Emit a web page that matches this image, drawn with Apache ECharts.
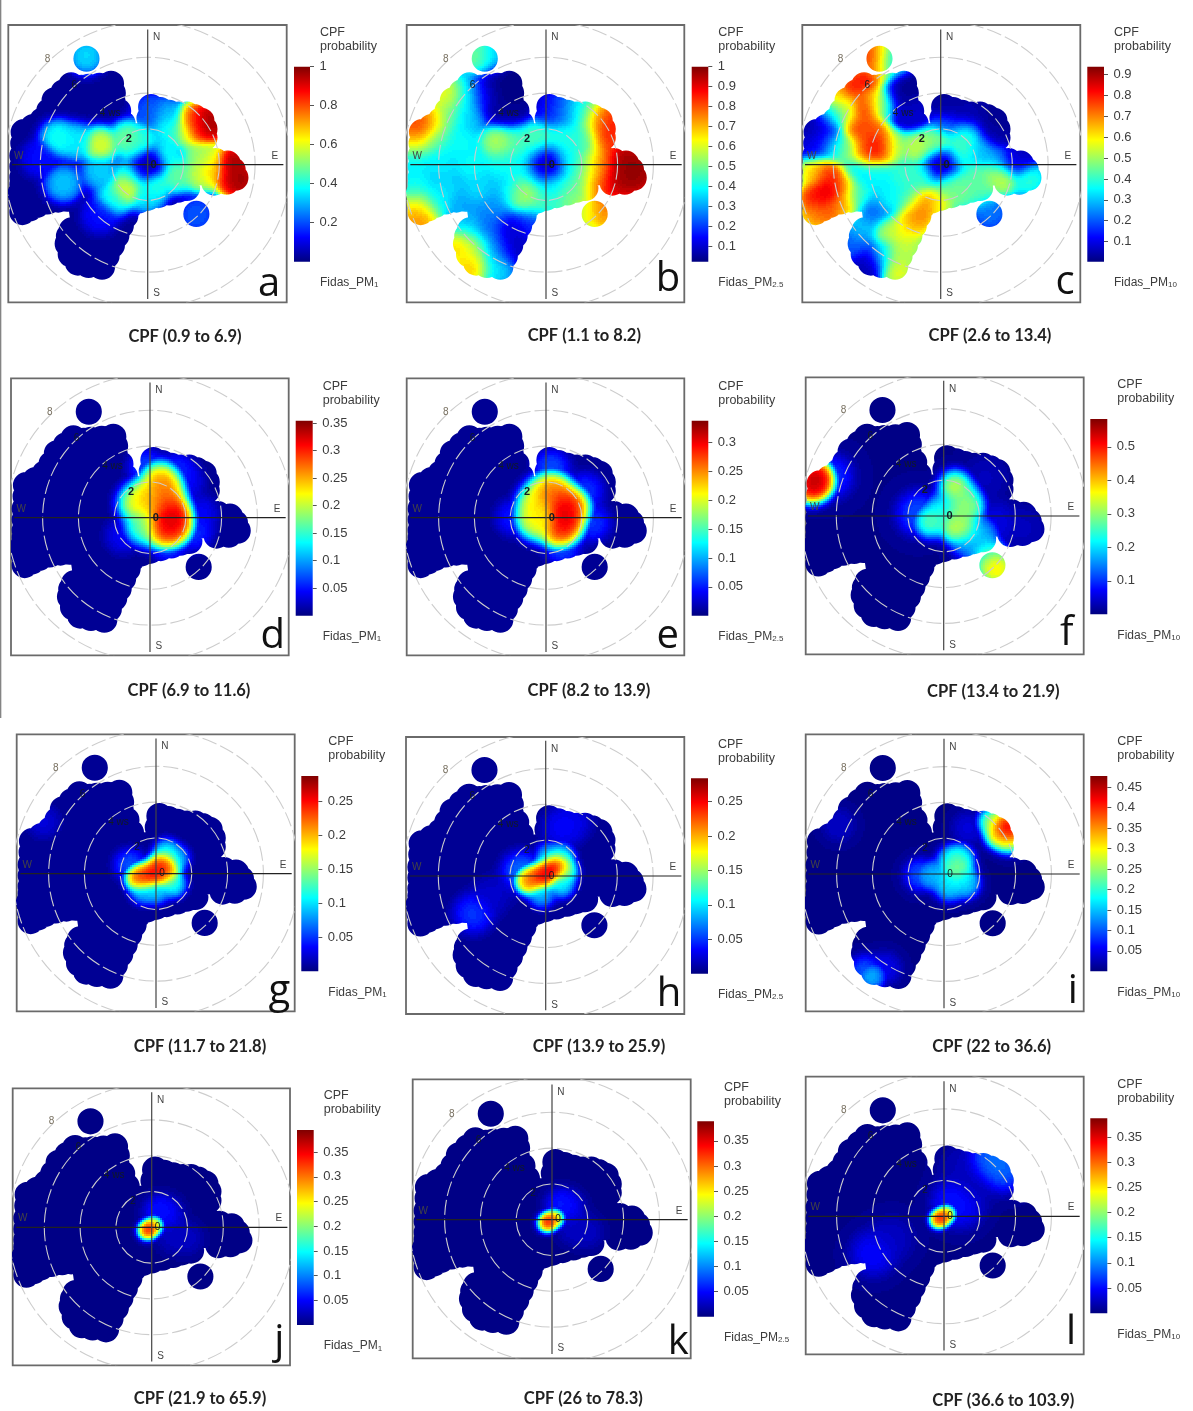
<!DOCTYPE html>
<html><head><meta charset="utf-8">
<style>html,body{margin:0;padding:0;background:#fff}#c{width:1193px;height:1411px}</style>
<script src="https://cdn.jsdelivr.net/npm/echarts@6/dist/echarts.min.js"></script>
</head><body><div id="c"></div>
<script>
// ---------- data: wind vector east/north (m/s), CPF probability ----------
const letters = ['a','b','c','d','e','f','g','h','i','j','k','l'];
const captions = ['CPF (0.9 to 6.9)','CPF (1.1 to 8.2)','CPF (2.6 to 13.4)','CPF (6.9 to 11.6)','CPF (8.2 to 13.9)','CPF (13.4 to 21.9)','CPF (11.7 to 21.8)','CPF (13.9 to 25.9)','CPF (22 to 36.6)','CPF (21.9 to 65.9)','CPF (26 to 78.3)','CPF (36.6 to 103.9)'];
const pollutantSub = ['1','2.5','10','1','2.5','10','1','2.5','10','1','2.5','10'];
const scaleMin = [0,0.024,0.004,0,0,0,0,0,0,0,0,0];
const scaleMax = [1,1,0.937,0.3545,0.3375,0.583,0.287,0.284,0.4775,0.395,0.389,0.387];
const baseValue = [0.02,0.03,0.01,0.005,0.005,0.008,0.004,0.004,0.006,0.004,0.004,0.005];
const ticks5 = [0.05,0.1,0.15,0.2,0.25,0.3,0.35];
const tickLists = [
 [0.2,0.4,0.6,0.8,1],
 [0.1,0.2,0.3,0.4,0.5,0.6,0.7,0.8,0.9,1],
 [0.1,0.2,0.3,0.4,0.5,0.6,0.7,0.8,0.9],
 ticks5,
 [0.05,0.1,0.15,0.2,0.25,0.3],
 [0.1,0.2,0.3,0.4,0.5],
 [0.05,0.1,0.15,0.2,0.25],
 [0.05,0.1,0.15,0.2,0.25],
 [0.05,0.1,0.15,0.2,0.25,0.3,0.35,0.4,0.45],
 ticks5, ticks5, ticks5
];
const footprintHull = [[-6.93,1.82],[-6.4,2.1],[-5.87,2.48],[-5.5,3.0],[-5.2,3.6],[-4.7,4.05],[-4.28,4.43],[-3.7,4.3],[-3.3,4.35],[-2.7,4.4],[-2.05,4.52],[-1.95,4.0],[-1.96,3.5],[-1.65,3.0],[-1.4,2.3],[-0.5,1.6],[0.1,2.6],[0.19,3.22],[0.7,3.05],[1.2,2.9],[1.75,2.8],[2.2,2.8],[2.6,2.66],[3.0,2.45],[3.17,2.0],[3.17,1.5],[2.5,0.9],[3.1,0.45],[3.8,0.2],[4.47,0.06],[4.75,-0.3],[4.9,-0.73],[4.4,-0.95],[3.72,-1.0],[2.2,-1.3],[1.7,-1.4],[1.2,-1.55],[0.6,-1.7],[0,-1.85],[-0.5,-2.0],[-1.0,-2.3],[-1.25,-2.85],[-1.5,-3.4],[-1.75,-3.95],[-2.0,-4.5],[-2.3,-5.1],[-2.55,-5.7],[-3.3,-5.6],[-3.9,-5.47],[-4.3,-5.0],[-4.47,-4.41],[-4.4,-4.0],[-4.25,-3.67],[-4.5,-1.9],[-5.0,-1.95],[-5.6,-2.05],[-6.2,-2.25],[-6.6,-2.45],[-7.0,-2.65],[-7.05,-2.1],[-7.1,-1.6],[-7.0,-1.1],[-7.0,-0.7],[-7.0,-0.1],[-7.0,0.5],[-6.95,1.2]];
const footprintIslands = [[-3.42,5.92],[2.72,-2.75]];
const ringValues = [2,4,6,8];
const ringLabels = [['0',0.33,0],['2',-1.06,1.45],['4 ws',-2.1,2.9],['6',-4.1,4.45],['8',-5.6,5.9]];
const compassLabels = [['N',0.5,7.1],['E',7.1,0.49],['S',0.5,-7.2],['W',-7.2,0.5]];

const calmDip = [[0,0,.01],[.15,.1,.02],[-.15,-.1,.02]];
const samplesA = calmDip.concat([[.95,.5,.42],[-.85,-.55,.42],[.4,-.95,.46],[-.55,.85,.44],[-4.99,1.47,.42],[-4.71,-1.04,.34],[-2.66,1.10,.63],[-3.97,1.28,.38],[-1.08,1.47,.52],[-1.17,-1.32,.66],[-1.92,-1.88,.42],[-2.66,-.39,.35],[1.62,-.58,.50],[2.92,-.58,.60],[3.67,-.39,.72],[4.6,-.76,.95],[5.16,-.76,1.0],[5.2,-1,1],[4.6,.17,1.0],[4.9,.1,1],[3.67,.35,.62],[2.92,.54,.55],[2.18,1.84,.58],[1.25,2.03,.42],[.13,2.96,.22],[1.06,2.77,.32],[2.55,2.59,.80],[2.92,2.03,.88],[2.9,2.1,.92],[3.48,2.4,1.0],[3.2,2.6,1],[3.6,2.1,1],[-.34,1.4,.42],[0,-1.7,.38],[-3.43,6.1,.36],[2.74,-2.81,.22],[-2.66,-2.81,.14],[-6,.35,.14]]);
const samplesB = calmDip.concat([[.95,.5,.42],[-.85,-.55,.42],[.4,-.95,.42],[-.55,.85,.46],[-2.3,4.2,.02],[-2.3,4.7,.02],[-1.9,3.6,.02],[-2.9,4.4,.05],[-2.8,3.3,.05],[-1.8,3,.06],[-3.78,6.03,.55],[-3.04,5.94,.35],[-5.46,3.89,.68],[-4.53,3.89,.42],[-3.59,3.89,.2],[-5.46,2.77,.5],[-6.39,2.59,.72],[-7.32,2.03,.85],[-7,2.3,.88],[-4.34,2.77,.36],[-7.32,1.28,.65],[-6.2,1.47,.5],[-4.71,1.28,.42],[-2.66,1.19,.6],[-1.55,1.28,.48],[-.43,1.6,.5],[.88,1.47,.45],[2.18,1.47,.45],[.2,3,.12],[.88,2.96,.3],[1.99,2.96,.42],[2.92,2.59,.75],[3.58,2.4,.92],[3.3,1.56,.9],[-7.32,.17,.4],[-5.83,.17,.4],[-4.15,0,.42],[-2.48,0,.42],[-1.5,0,.42],[1.4,.1,.42],[2.36,0,.55],[3.11,0,.85],[4.41,.35,1],[4.8,0,1],[4.5,-.5,1],[5.3,-.3,1],[5.16,-.76,1],[4.23,-.95,1],[3.48,-1.32,.95],[-7.32,-1.14,.42],[-5.64,-1.32,.38],[-3.78,-1.32,.38],[-2.1,-1.32,.36],[-1.17,-1.51,.62],[.32,-1.4,.38],[1.62,-1.14,.48],[2.74,-1.14,.72],[-7.32,-2.81,.75],[-7.2,-3,.8],[-6.9,-3.1,.75],[-7.32,-2.25,.55],[-6.2,-2.25,.42],[-4.71,-2.63,.32],[-2.85,-2.44,.3],[-1.27,-1.88,.55],[-.24,-2.07,.48],[1.25,-1.88,.55],[2.36,-2.63,.62],[3.11,-2.63,.82],[-4.34,-3.56,.36],[-3.22,-3.56,.25],[-1.92,-3.56,.1],[-.99,-3.18,.2],[-4.71,-4.49,.75],[-3.97,-4.67,.55],[-2.85,-4.67,.3],[-1.9,-4.5,.08],[-4.06,-5.7,.75],[-2.85,-5.79,.38]]);
const samplesC = calmDip.concat([[.95,.45,.42],[-.85,-.55,.42],[.4,-.95,.42],[-.55,.85,.48],[-2.55,4.26,.02],[-2,3.8,.02],[-1.6,3,.08],[2.85,2.4,.02],[3.4,2.4,.02],[2.2,2.7,.03],[3.4,1.8,.03],[1.2,2.9,.04],[3,1.7,.05],[.43,3.3,.03],[1.73,2.96,.05],[4.4,.35,.05],[-7.02,2.03,.03],[-7.02,1.1,.1],[-4.1,-5.5,.05],[-3.9,6,.85],[-3.67,6.13,.8],[-3.33,6.22,.6],[-2.92,5.94,.35],[-2.7,5.8,.3],[-3.67,5.57,.72],[-3.3,5.2,.5],[-3.85,4.82,.92],[-4.97,4.36,.85],[-5.72,3.8,.65],[-4.23,3.15,.82],[-3.67,3.7,.75],[-3.26,3.52,.35],[-5.34,2.96,.55],[-6.09,2.77,.32],[-6.55,1.84,.12],[-4.6,2.03,.8],[-3.85,1.84,.78],[-3.67,.91,.9],[-3.11,.91,.8],[-4.23,.73,.75],[-5.34,.91,.5],[-6.09,1.1,.3],[-2.55,.91,.48],[-1.25,.91,.58],[-.13,1.3,.52],[1.17,1.28,.45],[1.55,1.84,.38],[.43,2.22,.2],[2.29,.91,.33],[3.04,.35,.28],[3.97,.17,.12],[-7.02,-.39,.65],[-6.28,-.58,.85],[-6.28,-1.51,.92],[-7.02,-1.88,.85],[-5.53,-1.14,.75],[-7.02,-2.81,.72],[-6.28,-2.63,.78],[-5.44,-2.25,.7],[-4.6,-.39,.35],[-3.48,-.58,.38],[-2.18,-.58,.42],[-1.3,-.76,.42],[.61,-1.3,.48],[1.92,-.76,.45],[2.85,-.58,.5],[3.41,-.76,.58],[4.9,-.76,.42],[-4.6,-1.69,.42],[-3.67,-2.63,.22],[-2.92,-1.88,.38],[-1.81,-1.88,.42],[-1.25,-2.63,.75],[-.88,-2.07,.72],[-.13,-2.07,.62],[-1.43,-3.18,.7],[1.17,-1.51,.48],[2.29,-1.51,.45],[2.76,-2.63,.24],[-4.41,-3.56,.32],[-2.92,-3.74,.55],[-1.99,-3.74,.62],[-4.79,-4.49,.22],[-3.3,-5.05,.28],[-2.55,-5.05,.55],[-2.36,-5.98,.6],[-1.81,-4.67,.55]]);
const samplesD = [[1.12,-.04,.35],[1,-.3,.35],[1.2,.2,.35],[.93,.8,.32],[.56,2.1,.29],[-.74,.8,.25],[-.19,1.17,.27],[1.3,-.5,.33],[.74,-.69,.31],[.84,1.55,.3],[.37,.6,.27],[-.37,-.5,.2],[2.8,.24,.05],[-1.5,-1,.05],[2,2,.05],[1,-1.4,.09],[-.2,2.8,.08],[2.5,-.8,.07],[1.5,2.6,.07]];
const samplesE = [[.97,.71,.3375],[1.06,-.32,.3375],[1,.2,.3375],[.5,1.17,.29],[1.43,.61,.3],[.32,1.55,.28],[-.61,.61,.24],[-.61,-.13,.24],[-.24,1.17,.25],[.69,-.69,.31],[-.24,-.13,.22],[2.2,1.5,.07],[2.6,-.3,.07],[.9,-1.6,.08],[.3,2.8,.08],[-1.8,0,.06]];
const samplesF = [[-7.28,1.97,.58],[-7.4,1.6,.58],[-7.2,2.3,.58],[-7,1.9,.58],[-6.3,2.2,.12],[.63,1.64,.39],[1.38,.52,.34],[1.1,1,.31],[.9,.2,.33],[.63,-.6,.38],[1.19,-.78,.35],[-.76,-.32,.32],[-.11,.34,.26],[2.12,-.97,.2],[1.38,-1.53,.18],[2.31,-1.9,.25],[2.77,-2.83,.42],[3.05,-3.02,.42],[2.68,-2.46,.33],[-1.41,.15,.14],[2.87,-.41,.07],[4.5,-.7,.04],[2.3,2.1,.04]];
const samplesG = [[0,0,.287],[-1,-.25,.25],[-.4,-.1,.27],[.3,.3,.27],[.6,.55,.25],[-.71,-.26,.25],[.41,.48,.25],[.6,-.07,.22],[.6,1.23,.12],[1.15,.86,.1],[-.71,-1.0,.1],[0,-1.0,.11],[.97,-.63,.13],[-1.45,.48,.07],[-6.3,2.9,.03]];
const samplesH = [[.34,.43,.284],[0,.05,.28],[-1,-.3,.23],[-.4,-.1,.28],[.5,.55,.28],[-.78,-.22,.23],[.71,.71,.24],[1.08,.24,.16],[.89,1.17,.1],[.15,1.17,.09],[.89,-.5,.12],[-.22,-1.06,.1],[-1.34,.24,.08],[-4.04,-2.09,.06],[-3,-1.06,.025],[.89,2.66,.04],[1.45,3.03,.035]];
const samplesI = [[3.5,2.55,.4775],[3.7,2.3,.4775],[3.22,2.74,.44],[3.04,2.18,.36],[2.66,2.92,.28],[3.6,1.9,.3],[.61,.32,.27],[.8,.6,.27],[.9,-.1,.24],[.4,.8,.2],[.9,.9,.2],[.24,-.43,.2],[.3,-.8,.17],[1.2,-.6,.17],[-.5,-.06,.17],[1.17,-.43,.17],[-.9,-.1,.15],[-1.3,-.05,.12],[-4.04,-5.74,.17],[-4.41,-5.46,.12],[-3.3,-5.27,.06],[-5.9,2.74,.04],[1.36,2.55,.05]];
const samplesJ = [[-.13,-.09,.395],[-.28,-.2,.33],[.13,.09,.3],[.47,.88,.07],[.84,.69,.05],[1.96,-.61,.03],[1.2,-.5,.03]];
const samplesK = [[-.15,-.07,.389],[-.3,-.2,.33],[.17,.07,.3],[.54,.82,.07],[.91,.63,.05],[1.94,-.67,.03],[1.2,-.5,.03]];
const samplesL = [[-.13,-.07,.387],[-.32,-.2,.33],[.15,.11,.3],[.61,.82,.07],[.99,.63,.05],[2.85,2.96,.11],[3.41,2.68,.09],[2.48,3.05,.09],[-3.95,-2.07,.06],[-2.92,-1.23,.03],[.99,2.68,.025],[1.73,1.75,.02]];
const allSamples = [samplesA,samplesB,samplesC,samplesD,samplesE,samplesF,samplesG,samplesH,samplesI,samplesJ,samplesK,samplesL];

// ---------- layout and styling (pixels) ----------
const boxes = [[8.3,25,286.7,302.3],[406.7,25,684.3,302.3],[802.3,25,1080.3,302.3],[11,378.3,288.7,655.3],[406.7,378.3,684.3,655.3],[805.7,377.3,1083.7,654.3],[16.7,734.3,294.7,1011.3],[406,737,684.3,1014],[805.7,734.3,1083.7,1011.3],[12.7,1088.3,290,1365.3],[412.7,1079.3,690.7,1358.3],[805.7,1076.7,1083.7,1354.3]];
const centres = [[147.7,164.7],[546,164.7],[940.7,164.7],[150,517.7],[546,517.7],[943.7,516],[156,873.7],[545.7,876],[944,874],[151.7,1227.3],[552,1219.7],[944,1216.3]];
const bars = [[294,66.7,310,261.7],[691.7,66.7,708.3,261.7],[1087.3,66.7,1104,261.7],[295.7,420.7,312.7,615.7],[691.7,420.7,708.3,615.7],[1090.3,419,1107.3,614.3],[301.3,776,318.3,971.3],[691,778.3,708,973.7],[1090.3,776,1107.3,971.3],[297,1130,313.7,1325],[697.3,1121.3,714,1316.7],[1090.3,1118.3,1107.3,1313.3]];
const captionPos = [[185,337],[584.3,335.7],[990,335.7],[189,690.7],[589,690.7],[993.3,691.7],[200,1046.7],[599,1046.7],[991.7,1046.7],[200,1399],[583.3,1399],[1003.3,1401]];
const letterPos = [[269,285],[668,280],[1065,283],[272.7,636.7],[667.7,636.7],[1066.7,633.3],[279.3,991.7],[669,995],[1072.7,991.7],[279.3,1341.7],[678.3,1343],[1071,1333]];
const smoothing = [.45,.55,.48,.52,.52,.45,.36,.36,.38,.25,.25,.25];
const faintSmoothing = [0,0,0,.5,.5,.6,.45,.55,.45,.45,.45,.62];
const backgroundWeight = [.08,.08,.08,.25,.25,.25,.25,.25,.25,.25,.25,.25];
const pxPerMs = 17.9, footprintR = .73, levelCount = 72, cell = 2;

const jetStops = [[0,[0,0,127]],[.125,[0,0,255]],[.375,[0,255,255]],[.625,[255,255,0]],[.875,[255,0,0]],[1,[127,0,0]]];
function jet(t){
  t=Math.max(0,Math.min(1,t));
  for(let i=1;i<jetStops.length;i++){
    if(t<=jetStops[i][0]){
      const a=jetStops[i-1],b=jetStops[i],f=(t-a[0])/(b[0]-a[0]);
      return 'rgb('+a[1].map((c,k)=>Math.round(c+(b[1][k]-c)*f)).join(',')+')';
    }
  }
  return 'rgb(127,0,0)';
}
function circlePath(x,y,r){return 'M'+(x-r)+' '+y+'A'+r+' '+r+' 0 1 1 '+(x+r)+' '+y+'A'+r+' '+r+' 0 1 1 '+(x-r)+' '+y+'Z';}
function surface(list,h,w0,base,u,v){
  let sw=w0,sv=w0*base;
  for(let i=0;i<list.length;i++){
    const q=list[i],du=u-q[0],dv=v-q[1],r2=du*du+dv*dv;
    if(r2>16*h*h) continue;
    const w=Math.exp(-r2/(2*h*h));
    sw+=w;sv+=w*q[2];
  }
  return sv/sw;
}

const grids=[],xAxes=[],yAxes=[],series=[],graphics=[];
graphics.push({type:'line',silent:true,shape:{x1:.7,y1:0,x2:.7,y2:718},style:{stroke:'#777',lineWidth:1.2}});

letters.forEach((letter,p)=>{
  const box=boxes[p],c=centres[p],bar=bars[p];
  const lo=scaleMin[p],hi=scaleMax[p];
  const g=grids.length;
  grids.push({left:box[0],top:box[1],width:box[2]-box[0],height:box[3]-box[1],show:true,backgroundColor:'#fff',borderColor:'#6a6a6a',borderWidth:1.8,z:0});
  xAxes.push({type:'value',gridIndex:g,show:false,min:-(c[0]-box[0])/pxPerMs,max:(box[2]-c[0])/pxPerMs});
  yAxes.push({type:'value',gridIndex:g,show:false,min:-(box[3]-c[1])/pxPerMs,max:(c[1]-box[1])/pxPerMs});

  const samples=allSamples[p],h=smoothing[p],h2=faintSmoothing[p],w0=backgroundWeight[p],base=baseValue[p];
  const strong=h2?samples.filter(q=>q[2]>=.3*hi):samples, faint=h2?samples.filter(q=>q[2]<.3*hi):[];
  series.push({type:'custom',name:'CPF '+letter,coordinateSystem:'cartesian2d',xAxisIndex:g,yAxisIndex:g,clip:true,silent:true,z:2,
    data:samples,
    renderItem(params,api){
      if(params.dataIndex!==0) return null;
      const unit=api.size([1,0])[0],o=api.coord([0,0]);
      let d='';
      footprintHull.forEach((q,i)=>{const s=api.coord(q);d+=(i?'L':'M')+s[0]+' '+s[1];});
      d+='Z';
      footprintHull.concat(footprintIslands).forEach(q=>{const s=api.coord(q);d+=circlePath(s[0],s[1],footprintR*unit);});
      const tl=api.coord([-7.95,6.95]),br=api.coord([5.8,-6.7]);
      const x0=Math.max(Math.floor(tl[0]),Math.floor(box[0])),x1=Math.ceil(br[0]),y0=Math.floor(tl[1]),y1=Math.ceil(br[1]);
      const buckets={};
      const flush=(idx,xa,xb,y)=>{(buckets[idx]=buckets[idx]||[]).push('M'+xa+' '+y+'H'+xb+'V'+(y+cell)+'H'+xa+'Z');};
      for(let y=y0;y<y1;y+=cell){
        let run=-1,start=x0;
        for(let x=x0;x<x1;x+=cell){
          const u=(x+cell/2-o[0])/unit,v=(o[1]-y-cell/2)/unit;
          let f=surface(strong,h,w0,base,u,v);
          if(faint.length) f=Math.max(f,surface(faint,h2,w0,base,u,v));
          const idx=Math.max(0,Math.min(levelCount-1,Math.floor((f-lo)/(hi-lo)*levelCount)));
          if(idx!==run){ if(run>=0) flush(run,start,x,y); run=idx; start=x; }
        }
        flush(run,start,x1,y);
      }
      const kids=Object.keys(buckets).map(k=>({type:'path',silent:true,shape:{pathData:buckets[k].join('')},style:{fill:jet((+k+.5)/levelCount)}}));
      return {type:'group',children:kids,clipPath:{type:'path',shape:{pathData:d}}};
    }
  });
  // wind-speed rings
  series.push({type:'custom',name:'rings '+letter,coordinateSystem:'cartesian2d',xAxisIndex:g,yAxisIndex:g,clip:true,silent:true,z:3,
    data:ringValues.map(v=>[v,0]),
    renderItem(params,api){
      const o=api.coord([0,0]);
      return {type:'circle',silent:true,shape:{cx:o[0],cy:o[1],r:api.size([api.value(0),0])[0]},
        style:{fill:null,stroke:'#cdcdcd',lineWidth:1.1,lineDash:[15,4]}};
    }
  });
  // compass cross
  series.push({type:'line',name:'ew '+letter,xAxisIndex:g,yAxisIndex:g,silent:true,z:4,showSymbol:false,symbol:'none',lineStyle:{color:'#222',width:1.2},data:[[-7.58,0],[7.58,0]]});
  series.push({type:'line',name:'ns '+letter,xAxisIndex:g,yAxisIndex:g,silent:true,z:4,showSymbol:false,symbol:'none',lineStyle:{color:'#444',width:1.2},data:[[0,7.55],[0,-7.5]]});
  // labels
  const labels=ringLabels.concat(compassLabels);
  series.push({type:'custom',name:'labels '+letter,coordinateSystem:'cartesian2d',xAxisIndex:g,yAxisIndex:g,clip:true,silent:true,z:5,
    data:labels.map(l=>[l[1],l[2]]),
    renderItem(params,api){
      const l=labels[params.dataIndex],s=api.coord([api.value(0),api.value(1)]);
      const isRing=params.dataIndex<ringLabels.length;
      const eight=l[0]==='8';
      const strongLabel=p<6&&(l[0]==='2'||l[0]==='0');
      return {type:'text',silent:true,x:s[0],y:s[1],style:{text:l[0],align:'center',verticalAlign:'middle',
        fill:eight?'#776f5f':(isRing?'#111a24':'#444'),
        font:(strongLabel?'bold 11px':'10px')+' "Liberation Sans"'}};
    }
  });

  // colour bar
  const gb=grids.length;
  grids.push({left:bar[0],top:bar[1],width:bar[2]-bar[0],height:bar[3]-bar[1],show:false});
  xAxes.push({type:'category',gridIndex:gb,show:false,data:['CPF']});
  yAxes.push({type:'value',gridIndex:gb,position:'right',min:lo,max:hi,
    axisLine:{show:false},splitLine:{show:false},
    axisTick:{show:true,length:4,inside:false,customValues:tickLists[p],lineStyle:{color:'#555',width:1}},
    axisLabel:{show:true,margin:9.5,customValues:tickLists[p],color:'#3c3c3c',fontFamily:'Liberation Sans',fontSize:13,showMinLabel:true,showMaxLabel:true,hideOverlap:false}});
  const stops=[];
  jetStops.forEach(st=>stops.push({offset:1-st[0],color:jet(st[0])}));
  stops.reverse();
  series.push({type:'bar',name:'scale '+letter,xAxisIndex:gb,yAxisIndex:gb,barWidth:'100%',silent:true,
    data:[hi],itemStyle:{color:{type:'linear',x:0,y:0,x2:0,y2:1,colorStops:stops}}});

  // texts
  const tx=bar[2]+10;
  graphics.push({type:'text',silent:true,x:tx,y:bar[1]-41,style:{text:'CPF\nprobability',fill:'#3c3c3c',font:'12.5px "Liberation Sans"',lineHeight:14,verticalAlign:'top'}});
  graphics.push({type:'text',silent:true,x:tx,y:bar[3]+21,style:{text:'Fidas_PM{s|'+pollutantSub[p]+'}',fill:'#3c3c3c',font:'12px "Liberation Sans"',verticalAlign:'middle',
    rich:{s:{fontSize:8,fontFamily:'Liberation Sans',fill:'#3c3c3c',verticalAlign:'bottom',padding:[5,0,0,0]}}}});
  graphics.push({type:'text',silent:true,x:captionPos[p][0],y:captionPos[p][1],style:{text:captions[p],fill:'#222',font:'bold 16.5px Lato',align:'center',verticalAlign:'middle'}});
  graphics.push({type:'text',silent:true,z:10,x:letterPos[p][0],y:letterPos[p][1],style:{text:letter,fill:'#111',font:'40px "Open Sans"',align:'center',verticalAlign:'middle'}});
});

const chart=echarts.init(document.getElementById('c'),null,{renderer:'canvas'});
chart.setOption({animation:false,backgroundColor:'#fff',grid:grids,xAxis:xAxes,yAxis:yAxes,series,graphic:{elements:graphics}});
</script></body></html>
